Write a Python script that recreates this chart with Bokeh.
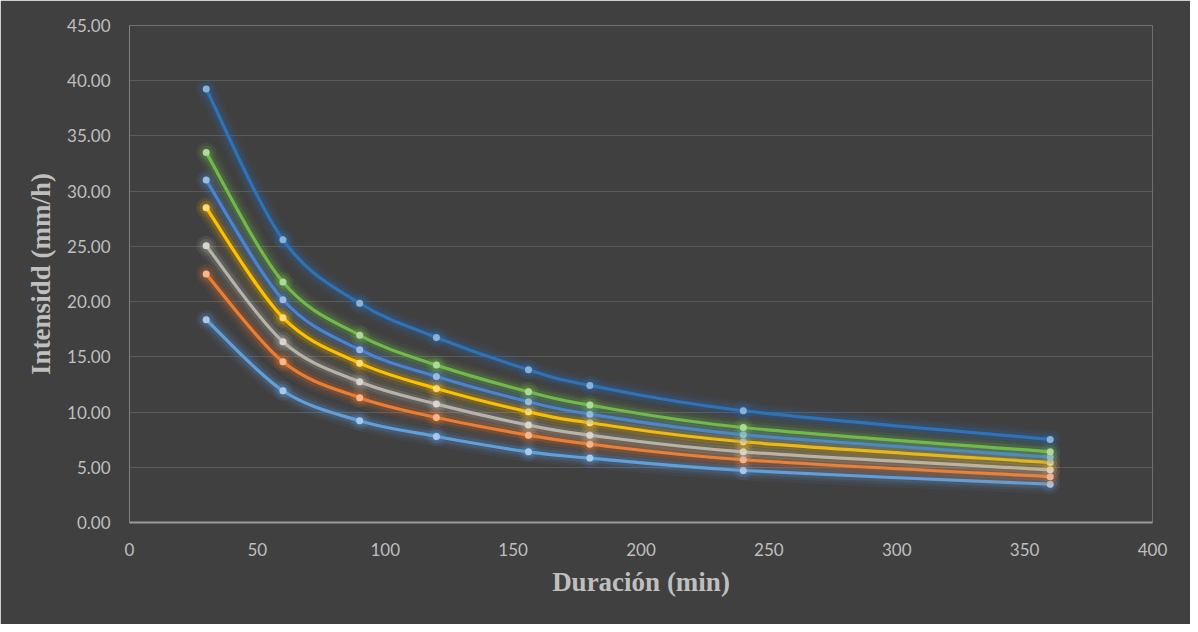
import numpy as np
from bokeh.plotting import figure
from bokeh.models import ColumnDataSource, FixedTicker, NumeralTickFormatter, Range1d
from bokeh.embed import file_html
from bokeh.resources import INLINE

# ---- data ----
duracion = [30, 60, 90, 120, 156, 180, 240, 360]
serie_1 = [18.36, 11.93, 9.21, 7.79, 6.40, 5.83, 4.71, 3.47]
serie_2 = [22.49, 14.55, 11.30, 9.51, 7.91, 7.09, 5.68, 4.14]
serie_3 = [25.06, 16.37, 12.74, 10.72, 8.82, 7.91, 6.40, 4.77]
serie_4 = [28.50, 18.54, 14.43, 12.14, 10.02, 9.03, 7.31, 5.43]
serie_5 = [31.00, 20.17, 15.64, 13.22, 10.93, 9.81, 7.94, 5.92]
serie_6 = [33.49, 21.77, 16.95, 14.25, 11.84, 10.63, 8.60, 6.40]
serie_7 = [39.25, 25.60, 19.85, 16.76, 13.83, 12.41, 10.12, 7.52]

series = [serie_1, serie_2, serie_3, serie_4, serie_5, serie_6, serie_7]
colors = ["#5FA0DC", "#ED7D31", "#B7B3A8", "#FFC000", "#4A84CF", "#72B94A", "#2E72B8"]

x_ticks = [0, 50, 100, 150, 200, 250, 300, 350, 400]
y_ticks = [0, 5, 10, 15, 20, 25, 30, 35, 40, 45]

BG = "#404040"
TXT = "#BFBFBF"


def tint(hex_color, f=0.4):
    h = hex_color.lstrip("#")
    r, g, b = (int(h[i:i + 2], 16) for i in (0, 2, 4))
    r = int(r + (255 - r) * f)
    g = int(g + (255 - g) * f)
    b = int(b + (255 - b) * f)
    return "#%02X%02X%02X" % (r, g, b)


def smooth_segments(xs, ys):
    """Catmull-Rom style Bezier segments through the data points (Excel 'smoothed line')."""
    xs = np.asarray(xs, float)
    ys = np.asarray(ys, float)
    n = len(xs)
    d = dict(x0=[], y0=[], x1=[], y1=[], cx0=[], cy0=[], cx1=[], cy1=[])
    for i in range(n - 1):
        i0 = max(i - 1, 0)
        i3 = min(i + 2, n - 1)
        d["x0"].append(xs[i]); d["y0"].append(ys[i])
        d["x1"].append(xs[i + 1]); d["y1"].append(ys[i + 1])
        d["cx0"].append(xs[i] + (xs[i + 1] - xs[i0]) / 6.0)
        d["cy0"].append(ys[i] + (ys[i + 1] - ys[i0]) / 6.0)
        d["cx1"].append(xs[i + 1] - (xs[i3] - xs[i]) / 6.0)
        d["cy1"].append(ys[i + 1] - (ys[i3] - ys[i]) / 6.0)
    return ColumnDataSource(d)


p = figure(
    width=1190, height=624,
    x_range=Range1d(0, 400), y_range=Range1d(0, 45),
    output_backend="svg", toolbar_location=None,
    min_border_left=129, min_border_right=38, min_border_top=25, min_border_bottom=102,
)
p.background_fill_color = BG
p.border_fill_color = BG
p.outline_line_color = None

# grid
p.xgrid.visible = False
p.ygrid.grid_line_color = "#5A5A5A"
p.ygrid.grid_line_width = 1
p.ygrid.ticker = FixedTicker(ticks=y_ticks)

# axes
p.xaxis.ticker = FixedTicker(ticks=x_ticks)
p.yaxis.ticker = FixedTicker(ticks=y_ticks)
p.yaxis.formatter = NumeralTickFormatter(format="0.00")
for ax in (p.xaxis[0], p.yaxis[0]):
    ax.major_tick_line_color = None
    ax.minor_tick_line_color = None
    ax.major_tick_out = 0
    ax.major_tick_in = 0
    ax.major_label_text_font = "Lato"
    ax.major_label_text_font_size = "17px"
    ax.major_label_text_color = TXT
    ax.axis_label_text_font = "Liberation Serif"
    ax.axis_label_text_font_style = "bold"
    ax.axis_label_text_font_size = "27px"
    ax.axis_label_text_color = TXT

p.xaxis.axis_line_color = "#9A9A9A"
p.xaxis.axis_line_width = 2
p.yaxis.axis_line_color = "#7F7F7F"
p.yaxis.axis_line_width = 1
p.xaxis.major_label_standoff = 20
p.yaxis.major_label_standoff = 19
p.xaxis.axis_label = "Duración (min)"
p.yaxis.axis_label = "Intensidd (mm/h)"
p.xaxis.axis_label_standoff = 8
p.yaxis.axis_label_standoff = 8

# series with glow
for vals, col in zip(series, colors):
    seg = smooth_segments(duracion, vals)
    pts = ColumnDataSource(dict(x=duracion, y=vals))
    for w, a in ((20, 0.06), (14, 0.09), (9, 0.16)):
        p.bezier("x0", "y0", "x1", "y1", "cx0", "cy0", "cx1", "cy1", source=seg,
                 line_color=col, line_width=w, line_alpha=a, line_cap="round")
    p.bezier("x0", "y0", "x1", "y1", "cx0", "cy0", "cx1", "cy1", source=seg,
             line_color=col, line_width=3.2, line_cap="round")
    for s, a in ((20, 0.06), (14, 0.09)):
        p.scatter("x", "y", source=pts, size=s, fill_color=col, fill_alpha=a, line_color=None)
    p.scatter("x", "y", source=pts, size=7, fill_color=tint(col, 0.45), line_color=None)

open("out.html", "w").write(file_html(p, INLINE))
